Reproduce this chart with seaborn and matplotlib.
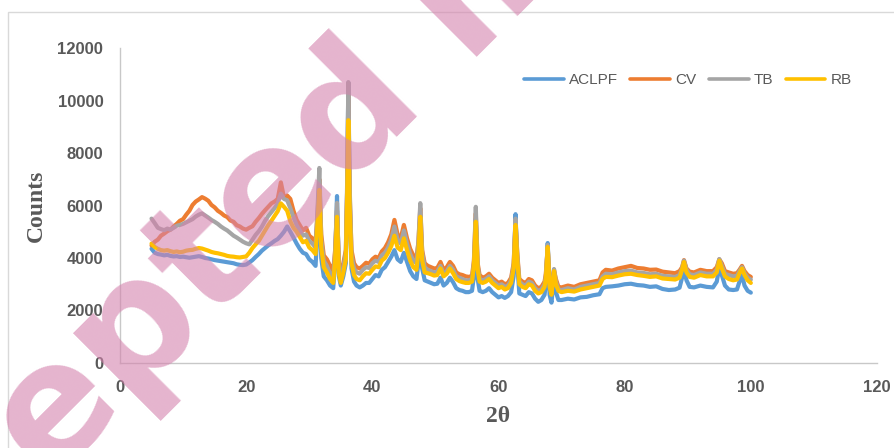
import numpy as np
import pandas as pd
import seaborn as sns
import matplotlib
matplotlib.use("Agg")
import matplotlib.pyplot as plt
from matplotlib.patches import Rectangle
from matplotlib.lines import Line2D

# ---------------- data ----------------
two_theta = [
    5.0, 5.5, 6.0, 6.5, 7.0, 7.5, 8.0, 8.5, 9.0, 9.5, 10.0, 10.5, 11.0, 11.5, 12.0, 12.5, 13.0,
    13.5, 14.0, 14.5, 15.0, 15.5, 16.0, 16.5, 17.0, 17.5, 18.0, 18.5, 19.0, 19.5, 20.0, 20.5,
    21.0, 21.5, 22.0, 22.5, 23.0, 23.5, 24.0, 24.5, 25.0, 25.5, 26.0, 26.5, 27.0, 27.5, 28.0,
    28.5, 29.0, 29.5, 30.0,
    30.5, 31.0, 31.3, 31.6, 31.9, 32.3, 32.8, 33.3, 33.8, 34.1, 34.4, 34.7, 35.0, 35.4, 35.8,
    36.0, 36.2, 36.4, 36.7, 37.1, 37.5, 38.0,
    38.5, 39.0, 39.5, 40.0, 40.5, 41.0, 41.5, 42.0, 42.5, 43.0, 43.5, 44.0, 44.5, 45.0, 45.5,
    46.0, 46.5, 47.0,
    47.3, 47.6, 47.9, 48.3,
    48.8, 49.3, 49.8, 50.3, 50.8, 51.3, 51.8, 52.3, 52.8, 53.3, 53.8, 54.3, 54.8, 55.3, 55.8,
    56.1, 56.4, 56.7, 57.0,
    57.5, 58.0, 58.5, 59.0, 59.5, 60.0, 60.5, 61.0, 61.5, 62.0,
    62.4, 62.7, 63.0, 63.3,
    63.8, 64.3, 64.8, 65.3, 65.8, 66.3, 66.8, 67.3,
    67.5, 67.8, 68.1, 68.4, 68.8, 69.1, 69.5,
    70.0, 71.0, 72.0, 73.0, 74.0, 75.0, 76.0, 76.5, 77.0, 78.0, 79.0, 80.0, 81.0, 82.0, 83.0,
    84.0, 85.0, 86.0, 87.0, 88.0, 88.7,
    89.1, 89.4, 89.8, 90.3,
    91.0, 92.0, 93.0, 94.0, 94.6,
    95.0, 95.4, 95.9,
    96.5, 97.2, 97.8,
    98.2, 98.6, 99.0, 99.5, 100.0,
]

aclpf = [
    4350, 4200, 4150, 4130, 4100, 4120, 4080, 4060, 4070, 4040, 4050, 4030, 4010, 4030, 4050,
    4070, 4040, 4000, 3980, 3950, 3920, 3900, 3880, 3860, 3840, 3820, 3800, 3760, 3740, 3730,
    3750, 3830, 3920, 4040, 4150, 4280, 4380, 4480, 4560, 4650, 4720, 4850, 5000, 5200, 5000,
    4780, 4550, 4350, 4200, 4150, 3950,
    3850, 3700, 5000, 6300, 4000, 3300, 3150, 2950, 2850, 3900, 6360, 3300, 2950, 3300, 3800,
    6500, 10680, 6300, 3600, 3100, 2950, 2880,
    2950, 3050, 3050, 3200, 3350, 3300, 3550, 3650, 3850, 4050, 4300, 3950, 3850, 4200, 3850,
    3500, 3300, 3200,
    3800, 5600, 3600, 3150,
    3100, 3050, 3000, 3020, 3250, 2950, 3050, 3250, 3080, 2850, 2780, 2750, 2700, 2700, 2750,
    3300, 5500, 3200, 2750,
    2700, 2750, 2850, 2700, 2600, 2500, 2550, 2480, 2550, 2700,
    3300, 5670, 3700, 2650,
    2600, 2550, 2700, 2650, 2450, 2330, 2400, 2600,
    3000, 4570, 2600, 2300, 3300, 2700, 2400,
    2400, 2450, 2420, 2500, 2520, 2580, 2620, 2850, 2900, 2920, 2950, 3000, 3020, 2970, 2950,
    2900, 2920, 2820, 2780, 2800, 2870,
    3250, 3600, 3150, 2900,
    2880, 2950, 2900, 2880, 3100,
    3650, 3350, 2950,
    2800, 2780, 2800,
    3100, 3350, 2950, 2750, 2680,
]

cv = [
    4480, 4620, 4700, 4850, 4930, 5020, 5080, 5200, 5300, 5420, 5480, 5650, 5800, 6020, 6150,
    6230, 6320, 6260, 6180, 6020, 5930, 5800, 5720, 5620, 5560, 5430, 5380, 5250, 5200, 5120,
    5080, 5150, 5210, 5380, 5520, 5680, 5820, 5950, 6080, 6150, 6250, 6880, 6300, 6380, 6250,
    5800, 5450, 5250, 5050, 5150, 4850,
    4750, 4600, 5600, 7000, 4900, 4100, 3950, 3700, 3500, 4300, 5800, 3800, 3400, 3800, 4300,
    6500, 10200, 6500, 4300, 3800, 3650, 3600,
    3700, 3820, 3780, 3950, 4050, 4000, 4250, 4380, 4600, 4900, 5450, 4900, 4750, 5260, 4750,
    4350, 4100, 4000,
    4600, 5900, 4300, 3800,
    3700, 3650, 3600, 3620, 3850, 3550, 3650, 3850, 3700, 3450, 3380, 3350, 3300, 3280, 3320,
    3900, 5700, 3800, 3350,
    3250, 3300, 3400, 3250, 3150, 3050, 3100, 3000, 3050, 3250,
    3800, 5400, 4100, 3200,
    3100, 3050, 3200, 3150, 2950, 2850, 2900, 3100,
    3400, 4400, 3100, 2800, 3550, 3200, 2900,
    2880, 2950, 2900, 3000, 3050, 3100, 3150, 3450, 3550, 3520, 3600, 3650, 3700, 3620, 3600,
    3550, 3560, 3480, 3450, 3420, 3500,
    3650, 3920, 3600, 3480,
    3450, 3550, 3500, 3500, 3650,
    3950, 3800, 3500,
    3450, 3400, 3420,
    3550, 3700, 3500, 3350, 3280,
]

tb = [
    5500, 5330, 5150, 5100, 5060, 5120, 5080, 5150, 5230, 5260, 5300, 5360, 5420, 5480, 5580,
    5650, 5700, 5620, 5540, 5450, 5380, 5300, 5200, 5120, 5050, 4950, 4850, 4780, 4700, 4620,
    4560, 4520, 4700, 4880, 5020, 5200, 5420, 5600, 5750, 5900, 6080, 6450, 6250, 6200, 5900,
    5550, 5250, 5050, 4850, 4900, 4650,
    4550, 4400, 5800, 7430, 4700, 3900, 3700, 3400, 3250, 4200, 6100, 3600, 3200, 3650, 4200,
    6800, 10700, 6800, 4100, 3600, 3450, 3400,
    3550, 3650, 3620, 3800, 3900, 3850, 4100, 4200, 4400, 4700, 5200, 4700, 4550, 5050, 4550,
    4150, 3900, 3800,
    4600, 6090, 4200, 3650,
    3550, 3500, 3450, 3480, 3700, 3400, 3500, 3700, 3550, 3300, 3250, 3200, 3150, 3150, 3200,
    3800, 5950, 3700, 3200,
    3150, 3200, 3300, 3150, 3050, 2950, 3000, 2900, 2950, 3150,
    3700, 5500, 4000, 3100,
    3000, 2950, 3100, 3050, 2850, 2750, 2800, 3000,
    3300, 4500, 3000, 2700, 3580, 3100, 2800,
    2780, 2850, 2800, 2900, 2950, 3000, 3050, 3300, 3400, 3380, 3450, 3500, 3520, 3450, 3430,
    3380, 3400, 3320, 3300, 3280, 3350,
    3600, 3900, 3550, 3380,
    3350, 3450, 3400, 3400, 3550,
    3960, 3700, 3400,
    3350, 3300, 3320,
    3500, 3650, 3420, 3250, 3180,
]

rb = [
    4550, 4420, 4350, 4300, 4280, 4300, 4260, 4230, 4250, 4220, 4240, 4280, 4300, 4310, 4350,
    4380, 4360, 4320, 4280, 4230, 4200, 4180, 4150, 4120, 4080, 4060, 4050, 4030, 4020, 4040,
    4060, 4200, 4380, 4520, 4650, 4850, 5050, 5250, 5420, 5600, 5780, 6080, 5950, 5800, 5400,
    5150, 5000, 4800, 4600, 4650, 4400,
    4300, 4150, 5300, 6590, 4400, 3650, 3450, 3200, 3050, 3900, 5570, 3400, 3050, 3450, 3950,
    6200, 9250, 6000, 3800, 3350, 3200, 3150,
    3300, 3420, 3400, 3550, 3680, 3650, 3900, 4000, 4200, 4450, 4850, 4400, 4300, 4750, 4300,
    3900, 3650, 3550,
    4200, 5570, 3900, 3450,
    3420, 3380, 3330, 3350, 3600, 3300, 3400, 3600, 3420, 3200, 3120, 3080, 3050, 3050, 3100,
    3700, 5380, 3550, 3100,
    3050, 3100, 3200, 3050, 2950, 2850, 2900, 2800, 2850, 3050,
    3600, 5260, 3850, 3000,
    2900, 2850, 3000, 2950, 2750, 2650, 2700, 2900,
    3200, 4420, 2900, 2600, 3500, 3000, 2750,
    2700, 2750, 2720, 2800, 2850, 2900, 2950, 3200, 3280, 3270, 3330, 3380, 3400, 3350, 3320,
    3280, 3300, 3220, 3200, 3180, 3250,
    3550, 3850, 3450, 3280,
    3250, 3350, 3300, 3300, 3450,
    3900, 3600, 3300,
    3200, 3150, 3180,
    3420, 3600, 3350, 3150, 3050,
]

series_names = ["ACLPF", "CV", "TB", "RB"]
series_colors = ["#5B9BD5", "#ED7D31", "#A5A5A5", "#FFC000"]
x_ticks = [0, 20, 40, 60, 80, 100, 120]
y_ticks = [0, 2000, 4000, 6000, 8000, 10000, 12000]

for s in (aclpf, cv, tb, rb):
    assert len(s) == len(two_theta), (len(s), len(two_theta))

# ---------------- frame ----------------
frames = []
for name, vals in zip(series_names, (aclpf, cv, tb, rb)):
    frames.append(pd.DataFrame({"2θ": two_theta, "Counts": vals, "Sample": name}))
df = pd.concat(frames, ignore_index=True)

# ---------------- plot ----------------
sns.set_theme(style="white")
plt.rcParams["font.family"] = ["Liberation Sans", "DejaVu Sans"]

W, H = 894, 448
fig = plt.figure(figsize=(W / 100, H / 100), dpi=100)
ax = fig.add_axes([120 / W, 1 - 363 / H, (877 - 120) / W, (363 - 48) / H])

sns.lineplot(data=df, x="2θ", y="Counts", hue="Sample", hue_order=series_names,
             palette=series_colors, sort=False, linewidth=3.0, ax=ax, legend=False)

ax.set_xlim(0, 120)
ax.set_ylim(0, 12000)
ax.set_xticks(x_ticks)
ax.set_yticks(y_ticks)
tick_font = dict(family=["Liberation Sans", "DejaVu Sans"], weight="bold", size=12)
ax.set_xticklabels([str(v) for v in x_ticks], color="#595959", **tick_font)
ax.set_yticklabels([str(v) for v in y_ticks], color="#595959", **tick_font)
ax.tick_params(axis="both", length=0, pad=12)

for side in ("top", "right"):
    ax.spines[side].set_visible(False)
for side in ("left", "bottom"):
    ax.spines[side].set_color("#C8C8C8")
    ax.spines[side].set_linewidth(1.0)

label_font = dict(family=["Liberation Serif", "DejaVu Serif"], weight="bold", size=17, color="#595959")
ax.set_xlabel("2θ", **label_font)
ax.set_ylabel("Counts", **label_font)
ax.xaxis.label.set_va("center")
ax.yaxis.label.set_va("center")
ax.xaxis.set_label_coords(0.5, (363 - 416) / 315)
ax.yaxis.set_label_coords((36 - 120) / 757, 0.5)

# legend
handles = [Line2D([], [], color=c, lw=2.6) for c in series_colors]
leg = ax.legend(handles, series_names, loc="center", bbox_to_anchor=((688 - 120) / 757, (363 - 80) / 315),
                ncol=4, frameon=False, handlelength=2.6, handletextpad=0.35, columnspacing=0.8,
                prop=dict(family=["Liberation Sans", "DejaVu Sans"], size=11))
for t in leg.get_texts():
    t.set_color("#595959")

# outer chart-area border (light gray, left and top edges visible)
fig.patches.append(Rectangle((8 / W, -0.2), 1.2, 1.2 - 12 / H, transform=fig.transFigure,
                             fill=False, edgecolor="#D9D9D9", linewidth=1.0))

# watermark
fig.text(-178 / W, 1 - 712 / H, "Accepted manuscript", rotation=45, rotation_mode="anchor",
         ha="left", va="baseline", fontsize=118, fontweight="bold", family="DejaVu Sans",
         color="#D482AD", alpha=0.6, zorder=10)

fig.savefig("out.png", dpi=100)
